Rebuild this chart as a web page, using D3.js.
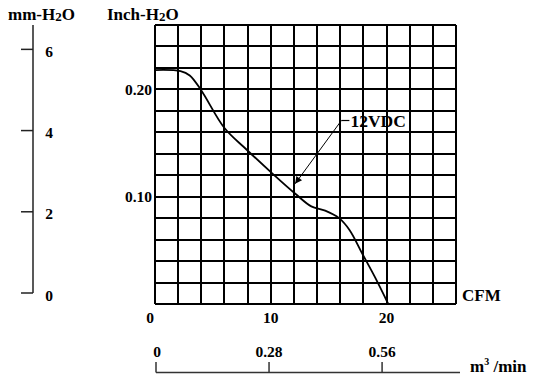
<!DOCTYPE html>
<html>
<head>
<meta charset="utf-8">
<script src="https://cdn.jsdelivr.net/npm/d3@7"></script>
<style>
  body { margin: 0; background: #fff; }
  text { font-family: "Liberation Serif", "Times New Roman", serif; font-weight: bold; fill: #000; }
</style>
</head>
<body>
<div id="vis"></div>
<script>
// datos
const cfmValues = [0, 2.2, 3.0, 4.0, 6.0, 7.9, 10.1, 12.2, 13.5, 14.7, 15.9, 16.8, 17.9, 19.0, 20.15];
const inchValues = [0.218, 0.217, 0.213, 0.199, 0.164, 0.144, 0.122, 0.102, 0.091, 0.087, 0.080, 0.069, 0.047, 0.025, 0];

const cfmTicks = [0, 10, 20];
const inchTicks = [0.10, 0.20];
const mmTicks = [0, 2, 4, 6];
const m3Ticks = [0, 0.28, 0.56];

const curveLabel = "12VDC";
const labelPoint = [16.1, 0.171];
const arrowTip = [12.1, 0.112];

const WIDTH_VIS = 535;
const HEIGHT_VIS = 385;

const MARGIN = { top: 25, left: 155 };
const WIDTH = 301;
const HEIGHT = 279;

const SVG = d3.select("#vis").append("svg")
    .attr("width", WIDTH_VIS)
    .attr("height", HEIGHT_VIS);

const xScale = d3.scaleLinear().domain([0, 26]).range([MARGIN.left, MARGIN.left + WIDTH]);
const yScale = d3.scaleLinear().domain([0, 0.26]).range([MARGIN.top + HEIGHT, MARGIN.top]);
const mmScale = d3.scaleLinear().domain([0, 6.6]).range([293, 25]);
const m3Scale = d3.scaleLinear().domain([0, 0.753]).range([156, 460]);

// grilla
const grid = SVG.append("g")
    .attr("stroke", "#000")
    .attr("stroke-width", 2)
    .attr("shape-rendering", "crispEdges");

grid.selectAll("line.v")
    .data(xScale.ticks(13))
    .join("line")
    .attr("class", "v")
    .attr("x1", d => xScale(d))
    .attr("x2", d => xScale(d))
    .attr("y1", yScale(0.26))
    .attr("y2", yScale(0));

grid.selectAll("line.h")
    .data(yScale.ticks(13))
    .join("line")
    .attr("class", "h")
    .attr("x1", xScale(0))
    .attr("x2", xScale(26))
    .attr("y1", d => yScale(d))
    .attr("y2", d => yScale(d));

// curva
const datos = cfmValues.map((c, i) => ({ cfm: c, inch: inchValues[i] }));

SVG.append("path")
    .datum(datos)
    .attr("fill", "none")
    .attr("stroke", "#000")
    .attr("stroke-width", 1.8)
    .attr("d", d3.line()
        .x(d => xScale(d.cfm))
        .y(d => yScale(d.inch))
        .curve(d3.curveCatmullRom.alpha(0.5)));

// flecha
SVG.append("defs").append("marker")
    .attr("id", "arrow")
    .attr("viewBox", "0 0 10 10")
    .attr("refX", 10)
    .attr("refY", 5)
    .attr("markerWidth", 9)
    .attr("markerHeight", 7)
    .attr("markerUnits", "userSpaceOnUse")
    .attr("orient", "auto")
    .append("path")
    .attr("d", "M0,0L10,5L0,10Z")
    .attr("fill", "#000");

SVG.append("line")
    .attr("x1", xScale(labelPoint[0]))
    .attr("y1", yScale(labelPoint[1]))
    .attr("x2", xScale(arrowTip[0]))
    .attr("y2", yScale(arrowTip[1]))
    .attr("stroke", "#000")
    .attr("stroke-width", 1)
    .attr("marker-end", "url(#arrow)");

SVG.append("line")
    .attr("x1", xScale(labelPoint[0]))
    .attr("x2", xScale(labelPoint[0]) + 8)
    .attr("y1", yScale(labelPoint[1]))
    .attr("y2", yScale(labelPoint[1]))
    .attr("stroke", "#000")
    .attr("stroke-width", 1.2);

SVG.append("text")
    .text(curveLabel)
    .attr("x", xScale(labelPoint[0]) + 9)
    .attr("y", yScale(labelPoint[1]) + 6)
    .attr("font-size", 17.5);

// etiquetas eje x (CFM)
SVG.selectAll("text.cfm")
    .data(cfmTicks)
    .join("text")
    .attr("class", "cfm")
    .attr("x", d => xScale(d))
    .attr("dx", (d, i) => i === 0 ? -5 : 0)
    .attr("y", yScale(0) + 19)
    .attr("text-anchor", "middle")
    .attr("font-size", 15.5)
    .text(d => d);

SVG.append("text")
    .text("CFM")
    .attr("x", xScale(26) + 6)
    .attr("y", yScale(0) - 3)
    .attr("font-size", 17);

// etiquetas eje y (Inch)
SVG.selectAll("text.inch")
    .data(inchTicks)
    .join("text")
    .attr("class", "inch")
    .attr("x", xScale(0) - 3)
    .attr("y", d => yScale(d) + 5.5)
    .attr("text-anchor", "end")
    .attr("font-size", 15.5)
    .text(d => d3.format(".2f")(d));

const inchTitle = SVG.append("text")
    .attr("x", 107)
    .attr("y", 20)
    .attr("font-size", 17);
inchTitle.append("tspan").text("Inch-H");
inchTitle.append("tspan").text("2").attr("font-size", 13).attr("dy", 1);
inchTitle.append("tspan").text("O").attr("dy", -1);

// eje mm-H2O
const mmAxis = SVG.append("g").attr("stroke", "#222").attr("stroke-width", 1.5);

mmAxis.append("line")
    .attr("x1", 33).attr("x2", 33)
    .attr("y1", mmScale(6.6))
    .attr("y2", mmScale(0));

mmAxis.selectAll("line.tick")
    .data(mmTicks)
    .join("line")
    .attr("class", "tick")
    .attr("x1", 21).attr("x2", 33)
    .attr("y1", d => mmScale(d))
    .attr("y2", d => mmScale(d));

SVG.selectAll("text.mm")
    .data(mmTicks)
    .join("text")
    .attr("class", "mm")
    .attr("x", 49)
    .attr("y", d => mmScale(d) + 7.5)
    .attr("text-anchor", "middle")
    .attr("font-size", 15.5)
    .text(d => d);

const mmTitle = SVG.append("text")
    .attr("x", 8)
    .attr("y", 20)
    .attr("font-size", 17);
mmTitle.append("tspan").text("mm-H");
mmTitle.append("tspan").text("2").attr("font-size", 13).attr("dy", 1);
mmTitle.append("tspan").text("O").attr("dy", -1);

// eje m3/min
const m3Axis = SVG.append("g").attr("stroke", "#333").attr("stroke-width", 1.5);

m3Axis.append("line")
    .attr("x1", m3Scale(0))
    .attr("x2", m3Scale(0.753))
    .attr("y1", 372.5)
    .attr("y2", 372.5);

m3Axis.selectAll("line.tick")
    .data(m3Ticks)
    .join("line")
    .attr("class", "tick")
    .attr("x1", d => m3Scale(d))
    .attr("x2", d => m3Scale(d))
    .attr("y1", 362)
    .attr("y2", 372.5);

SVG.selectAll("text.m3")
    .data(m3Ticks)
    .join("text")
    .attr("class", "m3")
    .attr("x", d => m3Scale(d))
    .attr("dx", (d, i) => i === 0 ? 1 : 0)
    .attr("y", 356.5)
    .attr("text-anchor", "middle")
    .attr("font-size", 15.5)
    .text(d => d);

const m3Title = SVG.append("text")
    .attr("x", 470)
    .attr("y", 372)
    .attr("font-size", 17);
m3Title.append("tspan").text("m");
m3Title.append("tspan").text("3").attr("font-size", 10).attr("dy", -7);
m3Title.append("tspan").text(" /min").attr("dy", 7);
</script>
</body>
</html>
